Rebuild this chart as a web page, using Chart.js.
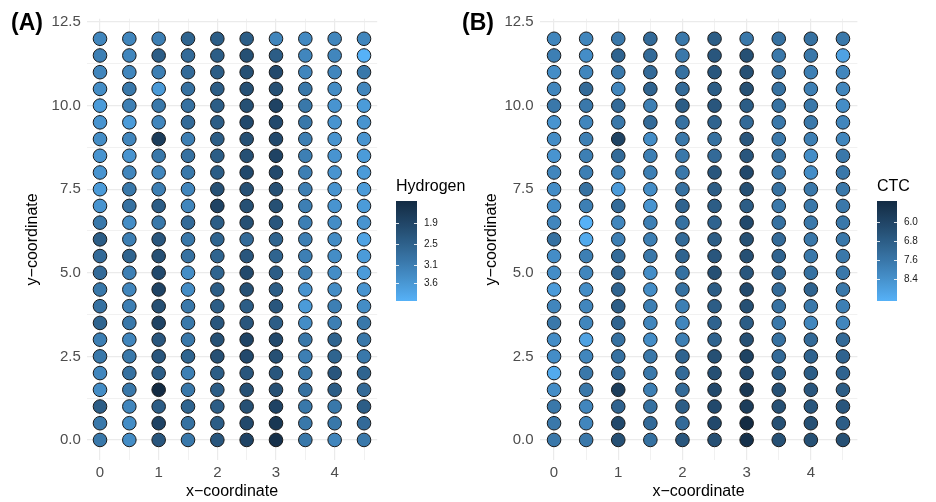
<!DOCTYPE html>
<html>
<head>
<meta charset="utf-8">
<script src="https://cdn.jsdelivr.net/npm/chart.js@4.4.1/dist/chart.umd.min.js"></script>
<style>
  html, body { margin: 0; padding: 0; background: #ffffff; }
  body { width: 936px; height: 502px; position: relative; overflow: hidden; }
  canvas { position: absolute; top: 0; }
  #panelA { left: 0; }
  #panelB { left: 452px; }
</style>
</head>
<body>
<canvas id="panelA" width="470" height="502"></canvas>
<canvas id="panelB" width="484" height="502"></canvas>
<script>
// Sampling grid (x in columns, y rows listed top to bottom)
const X_POS = [0, 0.5, 1, 1.5, 2, 2.5, 3, 3.5, 4, 4.5];
const Y_POS = [12, 11.5, 11, 10.5, 10, 9.5, 9, 8.5, 8, 7.5, 7, 6.5, 6, 5.5, 5, 4.5, 4, 3.5, 3, 2.5, 2, 1.5, 1, 0.5, 0];

// Axis ticks and grid lines
const X_GRID = [0, 0.5, 1, 1.5, 2, 2.5, 3, 3.5, 4, 4.5];
const X_LABELED = [0, 1, 2, 3, 4];
const Y_GRID = [0, 1.25, 2.5, 3.75, 5, 6.25, 7.5, 8.75, 10, 11.25, 12.5];
const Y_LABELED = [0, 2.5, 5, 7.5, 10, 12.5];

// Hydrogen per point, one row per y value (top row y = 12)
const HYDROGEN = [
  [3.26, 3.26, 3.12, 2.55, 2.41, 2.41, 3.26, 3.33, 3.26, 3.26],
  [3.12, 3.26, 2.41, 2.69, 2.41, 2.12, 2.41, 3.26, 3.26, 4.11],
  [3.26, 3.26, 3.12, 2.69, 2.41, 2.12, 1.98, 3.26, 3.26, 2.97],
  [3.40, 2.97, 3.68, 2.83, 2.41, 2.12, 2.12, 2.97, 3.40, 3.26],
  [3.68, 3.12, 2.97, 2.83, 2.41, 2.12, 1.84, 2.97, 3.54, 3.68],
  [3.54, 3.68, 3.26, 2.69, 2.41, 1.98, 1.98, 2.97, 3.54, 3.54],
  [3.40, 3.26, 1.70, 3.12, 2.41, 2.12, 1.98, 3.12, 3.54, 3.54],
  [3.54, 3.54, 2.97, 2.83, 2.41, 2.12, 1.84, 3.12, 3.54, 3.68],
  [3.54, 3.26, 3.26, 2.97, 2.41, 1.98, 1.98, 3.12, 3.54, 3.68],
  [3.68, 2.97, 3.12, 3.26, 2.12, 2.12, 2.12, 3.12, 3.54, 3.68],
  [3.54, 2.83, 2.41, 3.26, 1.84, 2.12, 2.12, 3.12, 3.54, 3.68],
  [2.97, 3.40, 2.97, 2.69, 2.41, 2.12, 2.26, 3.12, 3.40, 3.54],
  [2.41, 3.12, 2.26, 2.97, 2.55, 2.69, 2.55, 3.12, 3.40, 3.83],
  [2.69, 2.55, 2.12, 2.83, 2.55, 2.26, 2.55, 3.12, 3.40, 3.68],
  [2.69, 3.12, 1.98, 3.40, 2.55, 1.98, 2.41, 3.12, 3.40, 3.68],
  [2.97, 3.26, 1.84, 3.40, 2.41, 2.12, 2.41, 3.54, 3.40, 3.54],
  [2.83, 3.12, 2.12, 2.97, 2.41, 2.41, 2.26, 3.68, 3.12, 3.40],
  [2.55, 2.97, 1.84, 2.97, 2.26, 2.26, 2.41, 3.40, 3.12, 2.97],
  [3.12, 3.26, 2.26, 2.97, 2.12, 1.84, 1.98, 2.97, 2.55, 2.97],
  [2.97, 2.97, 2.26, 2.55, 2.12, 1.98, 2.12, 3.12, 2.55, 2.97],
  [3.26, 2.83, 2.41, 3.12, 2.41, 2.26, 2.26, 2.97, 2.26, 2.55],
  [3.40, 2.97, 1.27, 2.97, 2.41, 2.12, 2.12, 2.83, 2.41, 2.69],
  [2.41, 3.26, 2.41, 2.55, 2.41, 2.12, 1.84, 2.97, 2.97, 2.41],
  [2.97, 3.40, 1.84, 2.83, 2.41, 1.98, 1.55, 2.97, 2.97, 2.69],
  [2.97, 3.40, 2.26, 2.97, 2.26, 1.84, 1.41, 2.97, 3.26, 2.97]
];

// CTC per point, same layout
const CTC = [
  [8.07, 8.07, 7.65, 7.23, 7.65, 6.80, 7.65, 7.44, 7.44, 7.65],
  [7.86, 8.28, 7.01, 7.23, 7.65, 6.59, 6.38, 7.65, 7.65, 8.91],
  [8.28, 8.07, 7.65, 7.23, 7.44, 6.59, 6.38, 7.44, 7.86, 8.07],
  [8.07, 7.23, 8.07, 7.01, 7.23, 6.80, 6.38, 7.44, 7.86, 8.07],
  [7.65, 7.65, 7.23, 7.86, 6.80, 6.59, 6.80, 7.44, 7.65, 8.28],
  [8.49, 8.07, 7.65, 7.23, 7.44, 7.01, 7.23, 7.65, 7.65, 8.07],
  [8.28, 7.86, 5.96, 8.28, 7.65, 7.44, 6.59, 7.65, 7.86, 8.07],
  [8.49, 7.86, 7.23, 7.86, 7.65, 7.23, 6.59, 7.44, 8.28, 7.65],
  [8.07, 7.86, 7.86, 7.86, 7.65, 6.59, 6.17, 7.65, 8.28, 7.65],
  [8.28, 7.44, 8.70, 8.28, 7.44, 6.80, 6.38, 7.44, 7.65, 7.65],
  [8.28, 7.86, 7.23, 8.49, 7.01, 6.80, 6.80, 7.65, 7.65, 7.65],
  [8.07, 9.33, 8.07, 7.86, 7.44, 7.01, 6.17, 7.44, 7.65, 7.65],
  [7.44, 9.12, 7.86, 7.86, 7.23, 6.80, 6.38, 7.23, 7.65, 7.65],
  [8.28, 7.86, 7.23, 7.65, 7.01, 6.59, 6.38, 7.01, 7.65, 7.65],
  [8.28, 8.07, 7.01, 8.28, 7.44, 6.38, 6.59, 7.01, 7.44, 7.65],
  [8.70, 8.28, 7.01, 8.28, 7.44, 6.80, 6.17, 7.23, 7.01, 7.65],
  [8.07, 8.07, 6.80, 7.86, 7.86, 6.80, 6.38, 7.44, 7.65, 7.86],
  [7.65, 8.07, 7.01, 8.07, 8.07, 7.01, 6.80, 7.65, 8.07, 8.07],
  [8.28, 8.91, 7.44, 8.28, 7.86, 7.01, 6.38, 7.44, 7.23, 7.23],
  [8.28, 8.07, 7.44, 7.65, 7.01, 6.38, 5.96, 7.23, 7.01, 7.01],
  [9.12, 7.65, 7.23, 7.65, 7.23, 6.38, 6.17, 6.80, 6.80, 7.01],
  [8.28, 7.65, 5.75, 7.86, 7.23, 6.17, 5.54, 6.38, 6.59, 6.80],
  [7.65, 8.07, 7.01, 7.44, 6.80, 6.17, 5.75, 6.38, 6.59, 6.59],
  [7.65, 8.07, 6.17, 7.23, 7.23, 6.17, 5.12, 6.38, 6.38, 6.80],
  [7.65, 7.65, 6.38, 7.44, 6.59, 6.38, 5.33, 6.38, 6.38, 6.38]
];

// Colour-bar ranges and breaks
const HYDROGEN_LIMITS = [1.27, 4.11];
const HYDROGEN_BREAKS = [1.9, 2.5, 3.1, 3.6];
const HYDROGEN_BREAK_LABELS = ['1.9', '2.5', '3.1', '3.6'];
const CTC_LIMITS = [5.12, 9.33];
const CTC_BREAKS = [6.0, 6.8, 7.6, 8.4];
const CTC_BREAK_LABELS = ['6.0', '6.8', '7.6', '8.4'];

// ---- sequential gradient, interpolated in CIE Lab ----
const LOW_COLOUR = '#132B43';
const HIGH_COLOUR = '#56B1F7';

function hexToRgb(h) { return [1, 3, 5].map(i => parseInt(h.slice(i, i + 2), 16)); }
function toLinear(c) { c /= 255; return c <= 0.04045 ? c / 12.92 : Math.pow((c + 0.055) / 1.055, 2.4); }
function fromLinear(c) {
  const v = c <= 0.0031308 ? 12.92 * c : 1.055 * Math.pow(c, 1 / 2.4) - 0.055;
  return Math.max(0, Math.min(255, Math.round(v * 255)));
}
const WX = 0.95047, WY = 1.0, WZ = 1.08883;
const EPS = 216 / 24389, KAP = 24389 / 27;
function fLab(t) { return t > EPS ? Math.cbrt(t) : (KAP * t + 16) / 116; }
function fInv(f) { const f3 = f * f * f; return f3 > EPS ? f3 : (116 * f - 16) / KAP; }
function rgbToLab(rgb) {
  const [r, g, b] = rgb.map(toLinear);
  const X = 0.4124564 * r + 0.3575761 * g + 0.1804375 * b;
  const Y = 0.2126729 * r + 0.7151522 * g + 0.0721750 * b;
  const Z = 0.0193339 * r + 0.1191920 * g + 0.9503041 * b;
  const fx = fLab(X / WX), fy = fLab(Y / WY), fz = fLab(Z / WZ);
  return [116 * fy - 16, 500 * (fx - fy), 200 * (fy - fz)];
}
function labToRgb([L, a, bb]) {
  const fy = (L + 16) / 116, fx = fy + a / 500, fz = fy - bb / 200;
  const X = fInv(fx) * WX, Y = fInv(fy) * WY, Z = fInv(fz) * WZ;
  const r = 3.2404542 * X - 1.5371385 * Y - 0.4985314 * Z;
  const g = -0.9692660 * X + 1.8760108 * Y + 0.0415560 * Z;
  const b = 0.0556434 * X - 0.2040259 * Y + 1.0572252 * Z;
  return [fromLinear(r), fromLinear(g), fromLinear(b)];
}
const LAB_LOW = rgbToLab(hexToRgb(LOW_COLOUR));
const LAB_HIGH = rgbToLab(hexToRgb(HIGH_COLOUR));
function rampColour(t) {
  t = Math.max(0, Math.min(1, t));
  const lab = LAB_LOW.map((v, i) => v + (LAB_HIGH[i] - v) * t);
  const [r, g, b] = labToRgb(lab);
  return `rgb(${r},${g},${b})`;
}
function valueColour(v, limits) { return rampColour((v - limits[0]) / (limits[1] - limits[0])); }

// ---- plugins: panel tag and colour bar ----
const panelTag = {
  id: 'panelTag',
  afterDraw(chart, args, opts) {
    const ctx = chart.ctx;
    ctx.save();
    ctx.font = 'bold 23px "Liberation Sans", Arial, sans-serif';
    ctx.fillStyle = '#000000';
    ctx.textAlign = 'left';
    ctx.textBaseline = 'middle';
    ctx.fillText(opts.text, opts.x, opts.y);
    ctx.restore();
  }
};

const colourBar = {
  id: 'colourBar',
  afterDraw(chart, args, o) {
    const ctx = chart.ctx;
    const [lo, hi] = o.limits;
    const yOf = v => o.top + (v - lo) / (hi - lo) * o.height;
    ctx.save();
    ctx.font = '16px "Liberation Sans", Arial, sans-serif';
    ctx.fillStyle = '#000000';
    ctx.textAlign = 'left';
    ctx.textBaseline = 'middle';
    ctx.fillText(o.title, o.x, o.titleY);

    const grad = ctx.createLinearGradient(0, o.top, 0, o.top + o.height);
    for (let i = 0; i <= 24; i++) grad.addColorStop(i / 24, rampColour(i / 24));
    ctx.fillStyle = grad;
    ctx.fillRect(o.x, o.top, o.width, o.height);

    ctx.strokeStyle = 'rgba(255,255,255,0.85)';
    ctx.lineWidth = 1;
    ctx.font = '10px "Liberation Sans", Arial, sans-serif';
    o.breaks.forEach((b, i) => {
      const y = Math.round(yOf(b)) + 0.5;
      ctx.beginPath();
      ctx.moveTo(o.x, y); ctx.lineTo(o.x + 3, y);
      ctx.moveTo(o.x + o.width - 3, y); ctx.lineTo(o.x + o.width, y);
      ctx.stroke();
      ctx.fillStyle = '#1A1A1A';
      ctx.fillText(o.labels[i], o.x + o.width + 7, y);
    });
    ctx.restore();
  }
};

const FONT = '"Liberation Sans", Arial, sans-serif';

function buildPanel(canvasId, values, limits, cfg) {
  const points = [];
  Y_POS.forEach((y, r) => X_POS.forEach((x, c) => points.push({ x, y, v: values[r][c] })));

  return new Chart(document.getElementById(canvasId), {
    type: 'scatter',
    data: {
      datasets: [{
        data: points,
        pointRadius: 6.8,
        pointHoverRadius: 6.8,
        borderWidth: 1,
        borderColor: '#1A1A1A',
        backgroundColor: ctx => ctx.raw ? valueColour(ctx.raw.v, limits) : '#000'
      }]
    },
    options: {
      responsive: false,
      animation: false,
      devicePixelRatio: 1,
      layout: { padding: { left: 0, top: 18.7, right: cfg.padRight, bottom: 0 } },
      plugins: {
        legend: { display: false },
        tooltip: { enabled: false },
        panelTag: cfg.tag,
        colourBar: cfg.bar
      },
      scales: {
        x: {
          type: 'linear',
          min: -0.225,
          max: 4.725,
          afterBuildTicks: s => { s.ticks = X_GRID.map(v => ({ value: v })); },
          afterFit: s => { s.height = 42; },
          grid: {
            drawTicks: false,
            color: c => (c.tick && X_LABELED.includes(c.tick.value)) ? '#EBEBEB' : '#F1F1F1',
            lineWidth: c => (c.tick && X_LABELED.includes(c.tick.value)) ? 1.2 : 1
          },
          border: { display: false },
          ticks: {
            padding: 4,
            autoSkip: false,
            maxRotation: 0,
            color: '#4D4D4D',
            font: { family: FONT, size: 15 },
            callback: v => X_LABELED.includes(v) ? String(v) : ''
          },
          title: {
            display: true,
            text: 'x\u2212coordinate',
            color: '#000000',
            font: { family: FONT, size: 16 },
            padding: { top: 0, bottom: 0.4 }
          }
        },
        y: {
          type: 'linear',
          min: -0.6,
          max: 12.6,
          afterBuildTicks: s => { s.ticks = Y_GRID.map(v => ({ value: v })); },
          afterFit: s => { s.width = cfg.yWidth; },
          grid: {
            drawTicks: false,
            color: c => (c.tick && Y_LABELED.includes(c.tick.value)) ? '#EBEBEB' : '#F1F1F1',
            lineWidth: c => (c.tick && Y_LABELED.includes(c.tick.value)) ? 1.2 : 1
          },
          border: { display: false },
          ticks: {
            padding: 6,
            autoSkip: false,
            color: '#4D4D4D',
            font: { family: FONT, size: 15 },
            callback: v => Y_LABELED.includes(v) ? v.toFixed(1) : ''
          },
          title: {
            display: true,
            text: 'y\u2212coordinate',
            color: '#000000',
            font: { family: FONT, size: 16 },
            padding: { top: cfg.yTitlePad, bottom: 0 }
          }
        }
      }
    },
    plugins: [panelTag, colourBar]
  });
}

buildPanel('panelA', HYDROGEN, HYDROGEN_LIMITS, {
  padRight: 92.8,
  yWidth: 86.8,
  yTitlePad: 23.4,
  tag: { text: '(A)', x: 11, y: 24 },
  bar: {
    title: 'Hydrogen', x: 396, titleY: 187, top: 201, height: 100, width: 21,
    limits: HYDROGEN_LIMITS, breaks: HYDROGEN_BREAKS, labels: HYDROGEN_BREAK_LABELS
  }
});

buildPanel('panelB', CTC, CTC_LIMITS, {
  padRight: 78.6,
  yWidth: 87.6,
  yTitlePad: 30.4,
  tag: { text: '(B)', x: 10, y: 24 },
  bar: {
    title: 'CTC', x: 425, titleY: 187, top: 201, height: 100, width: 20,
    limits: CTC_LIMITS, breaks: CTC_BREAKS, labels: CTC_BREAK_LABELS
  }
});
</script>
</body>
</html>
